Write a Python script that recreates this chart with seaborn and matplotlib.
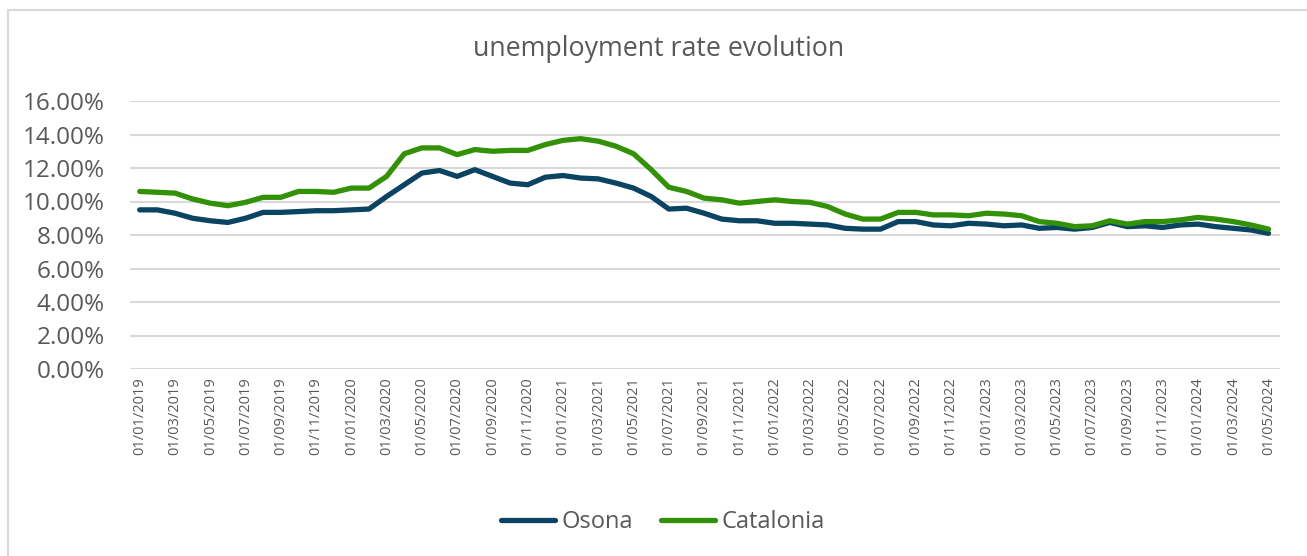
import matplotlib
matplotlib.use("Agg")
import matplotlib.pyplot as plt
import seaborn as sns
import pandas as pd
import numpy as np
from matplotlib.patches import Rectangle
from matplotlib.lines import Line2D
from matplotlib.ticker import FuncFormatter, MultipleLocator

# ---- data ----
months = pd.date_range("2019-01-01", "2024-05-01", freq="MS")
month_labels = [d.strftime("%d/%m/%Y") for d in months]

osona = [9.50, 9.50, 9.30, 9.00, 8.85, 8.75, 9.00, 9.35, 9.35, 9.40, 9.45, 9.45,
         9.50, 9.55, 10.30, 11.00, 11.70, 11.85, 11.50, 11.90, 11.50, 11.10, 11.00, 11.45,
         11.55, 11.40, 11.35, 11.10, 10.80, 10.30, 9.55, 9.60, 9.30, 8.95, 8.85, 8.85,
         8.70, 8.70, 8.65, 8.60, 8.40, 8.35, 8.35, 8.80, 8.80, 8.60, 8.55, 8.70,
         8.65, 8.55, 8.60, 8.40, 8.45, 8.35, 8.45, 8.75, 8.50, 8.55, 8.45, 8.60,
         8.65, 8.50, 8.40, 8.30, 8.10]

catalonia = [10.60, 10.55, 10.50, 10.15, 9.90, 9.75, 9.95, 10.25, 10.25, 10.60, 10.60, 10.55,
             10.80, 10.80, 11.50, 12.85, 13.20, 13.20, 12.80, 13.10, 13.00, 13.05, 13.05, 13.40,
             13.65, 13.75, 13.60, 13.30, 12.85, 11.90, 10.85, 10.60, 10.20, 10.10, 9.90, 10.00,
             10.10, 10.00, 9.95, 9.70, 9.25, 8.95, 8.95, 9.35, 9.35, 9.20, 9.20, 9.15,
             9.30, 9.25, 9.15, 8.80, 8.70, 8.50, 8.55, 8.85, 8.65, 8.80, 8.80, 8.90,
             9.05, 8.95, 8.80, 8.60, 8.35]

series_names = ["Osona", "Catalonia"]
series_colors = ["#0b4462", "#339107"]

df = pd.DataFrame({"idx": np.arange(len(months)), "Osona": osona, "Catalonia": catalonia})
long = df.melt(id_vars="idx", value_vars=series_names, var_name="series", value_name="rate")

# ---- style ----
sns.set_theme(style="white")
plt.rcParams["font.family"] = ["Open Sans", "DejaVu Sans"]
text_color = "#595959"

fig = plt.figure(figsize=(13.07, 5.56), dpi=100)
ax = fig.add_axes([130/1307, 1-369/556, (1280-130)/1307, (369-101)/556])

sns.lineplot(data=long, x="idx", y="rate", hue="series", hue_order=series_names,
             palette=series_colors, linewidth=3.8, ax=ax, legend=False,
             solid_joinstyle="round", solid_capstyle="round")

ax.set_ylim(0, 16)
ax.yaxis.set_major_locator(MultipleLocator(2))
ax.yaxis.set_major_formatter(FuncFormatter(lambda v, p: f"{v:.2f}%"))
ax.set_xlim(-0.55, len(months) - 1 + 0.65)
tick_idx = list(range(0, len(months), 2))
ax.set_xticks(tick_idx)
ax.set_xticklabels([month_labels[i] for i in tick_idx], rotation=90)

ax.grid(axis="y", color="#d9d9d9", linewidth=1.5)
ax.grid(axis="x", visible=False)
ax.set_axisbelow(True)
for s in ax.spines.values():
    s.set_visible(False)
ax.tick_params(axis="y", labelsize=17.5, colors=text_color, length=0, pad=18)
ax.tick_params(axis="x", labelsize=10.5, colors=text_color, length=0, pad=6)
ax.set_xlabel("")
ax.set_ylabel("")

fig.text(0.5035, 1-49/556, "unemployment rate evolution", ha="center", va="center",
         fontsize=19.3, color=text_color)

handles = [Line2D([0], [0], color=c, linewidth=3.8, solid_capstyle="round") for c in series_colors]
fig.legend(handles, series_names, loc="center", bbox_to_anchor=(0.507, 1-522/556), ncol=2,
           frameon=False, fontsize=17, handlelength=2.3, handletextpad=0.25,
           columnspacing=1.2, labelcolor=text_color)

fig.patches.append(Rectangle((7.5/1307, -0.1), 1.2, 1-10/556+0.1, transform=fig.transFigure,
                             fill=False, edgecolor="#d9d9d9", linewidth=1.5, figure=fig))

fig.savefig("out.png", dpi=100)
